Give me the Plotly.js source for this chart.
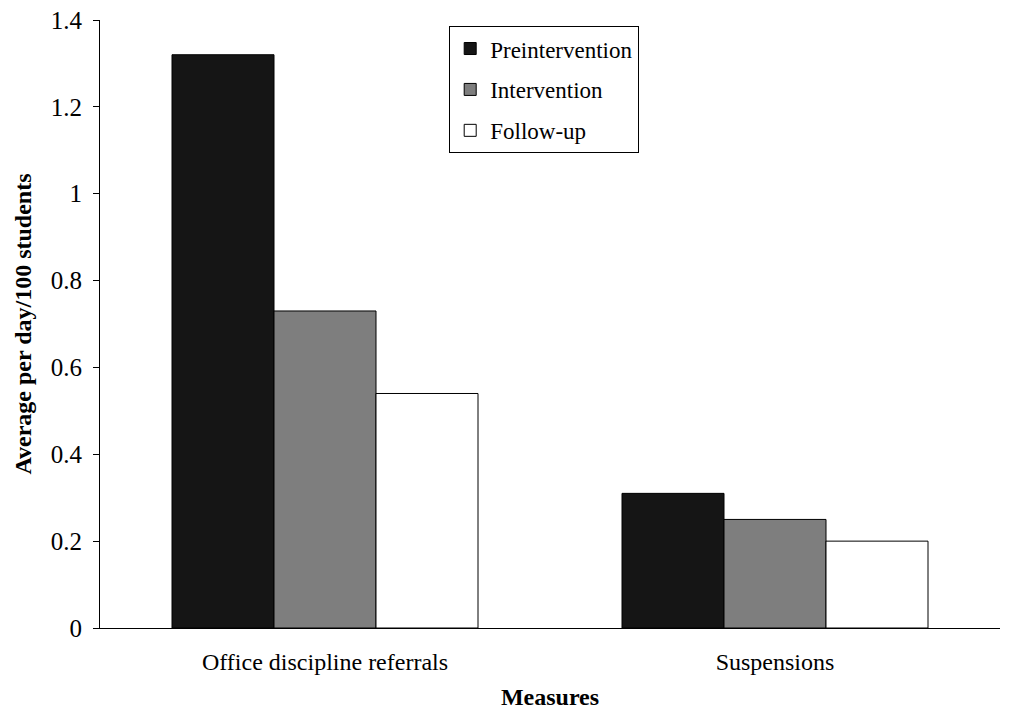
<!DOCTYPE html>
<html>
<head>
<meta charset="utf-8">
<script src="https://cdn.plot.ly/plotly-3.0.1.min.js"></script>
<style>html,body{margin:0;padding:0;background:#fff;}#chart{width:1009px;height:711px;}</style>
</head>
<body>
<div id="chart"></div>
<script>
const categories = ["Office discipline referrals", "Suspensions"];
const seriesNames = ["Preintervention", "Intervention", "Follow-up"];
const preintervention = [1.32, 0.31];
const intervention = [0.73, 0.25];
const followUp = [0.54, 0.20];
const yTickVals = [0, 0.2, 0.4, 0.6, 0.8, 1, 1.2, 1.4];
const yTickText = ["0", "0.2", "0.4", "0.6", "0.8", "1", "1.2", "1.4"];

const SERIF = "'Liberation Serif', 'Times New Roman', serif";
const colors = ["#151515", "#7e7e7e", "#ffffff"];
const values = [preintervention, intervention, followUp];
const data = values.map((v, i) => ({
  type: "bar",
  name: seriesNames[i],
  legendgroup: "g" + i,
  x: categories,
  y: v,
  marker: {color: colors[i], line: {color: "#000", width: 1}},
  hoverinfo: "x+y+name"
}));

const layout = {
  width: 1009, height: 711,
  margin: {l: 100, r: 9, t: 20, b: 83},
  paper_bgcolor: "#fff", plot_bgcolor: "#fff",
  font: {family: SERIF, color: "#000", size: 22},
  barmode: "group",
  bargap: 0.32,
  bargroupgap: 0,
  showlegend: true,
  legend: {
    x: 0.388, y: 0.99, xanchor: "left", yanchor: "top",
    bgcolor: "#fff", bordercolor: "#000", borderwidth: 1,
    font: {size: 23, family: SERIF},
    tracegroupgap: 8
  },
  xaxis: {
    showline: true, linecolor: "#000", linewidth: 1,
    ticks: "", showgrid: false, zeroline: false,
    ticklabelstandoff: 12,
    tickfont: {size: 24, family: SERIF},
    title: {text: "<b>Measures</b>", font: {size: 24, family: SERIF}, standoff: 14}
  },
  yaxis: {
    range: [0, 1.4],
    tickvals: yTickVals, ticktext: yTickText,
    showline: true, linecolor: "#000", linewidth: 1,
    ticks: "outside", ticklen: 6, tickcolor: "#000",
    ticklabelstandoff: 6,
    showgrid: false, zeroline: false,
    tickfont: {size: 25, family: SERIF},
    title: {text: "<b>Average per day/100 students</b>", font: {size: 24, family: SERIF}, standoff: 12}
  }
};

Plotly.newPlot("chart", data, layout, {displayModeBar: false, staticPlot: true});
</script>
</body>
</html>
